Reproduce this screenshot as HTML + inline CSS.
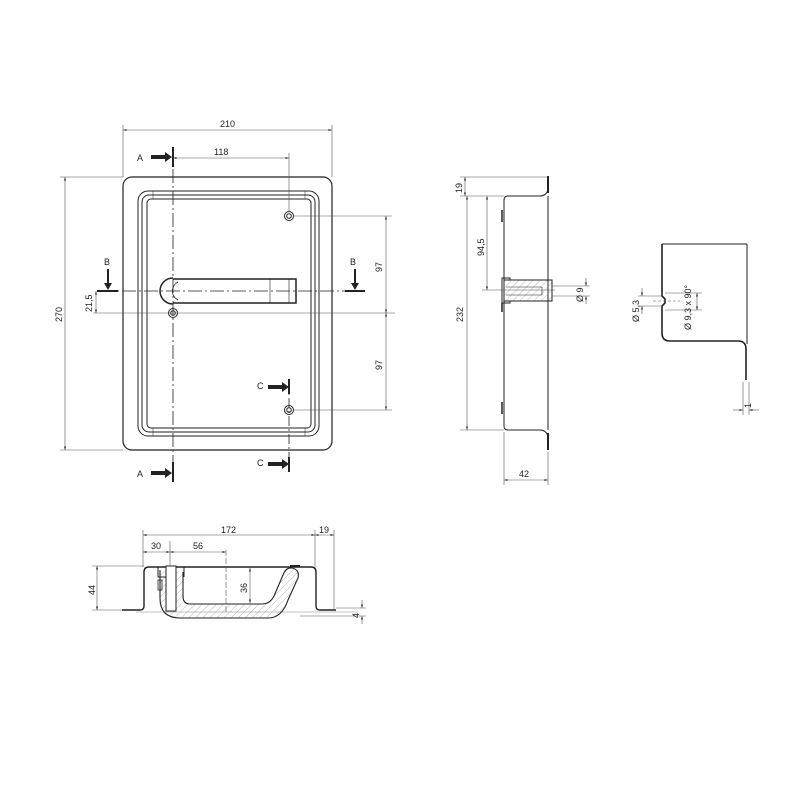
<!DOCTYPE html>
<html><head><meta charset="utf-8"><style>
html,body{margin:0;padding:0;background:#fff;}
svg{display:block;}
text{font-family:"Liberation Sans",sans-serif;font-size:9px;fill:#222;}
</style></head><body>
<svg width="801" height="801" viewBox="0 0 801 801" xmlns="http://www.w3.org/2000/svg">
<defs>
<marker id="ar" viewBox="0 0 10 10" refX="10" refY="5" markerWidth="6" markerHeight="6" orient="auto-start-reverse"><path d="M0,2 L10,5 L0,8z" fill="#333"/></marker>
<pattern id="h" width="5" height="5" patternUnits="userSpaceOnUse" patternTransform="rotate(45)"><line x1="0" y1="0" x2="0" y2="5" stroke="#999" stroke-width="0.7"/></pattern>
</defs>
<g fill="none" stroke="#222" stroke-width="1">
<!-- FRONT VIEW -->
<rect x="123" y="177" width="209" height="273" rx="9" stroke-width="1.2"/>
<rect x="138" y="191" width="181" height="245" rx="10"/>
<rect x="142" y="195" width="173" height="237" rx="7"/>
<rect x="147" y="199" width="164" height="229" rx="4"/>
<line x1="153" y1="191" x2="153" y2="199" stroke-width="0.5"/><line x1="305" y1="191" x2="305" y2="199" stroke-width="0.5"/>
<line x1="153" y1="428" x2="153" y2="436" stroke-width="0.5"/><line x1="305" y1="428" x2="305" y2="436" stroke-width="0.5"/>
<!-- handle -->
<path d="M173,279 L296,279 L296,303 L173,303" stroke-width="1.5"/>
<path d="M173,278 A13,13 0 0 0 173,304" stroke-width="1.5"/>
<path d="M178,282 A10,10 0 0 0 178,300" stroke-width="0.8"/>
<line x1="270" y1="279" x2="270" y2="303" stroke-width="0.6"/>
<line x1="289" y1="279" x2="289" y2="303" stroke-width="0.6"/>
<!-- holes -->
<circle cx="289" cy="216" r="4.5"/><circle cx="289" cy="216" r="2.3"/>
<circle cx="173" cy="313" r="4.5"/><circle cx="173" cy="313" r="2.3"/>
<circle cx="289" cy="410" r="4.5"/><circle cx="289" cy="410" r="2.3"/>
<!-- center lines -->
<line x1="173" y1="147" x2="173" y2="480" stroke-dasharray="14,3,2,3" stroke-width="0.8"/>
<line x1="100" y1="291" x2="365" y2="291" stroke-dasharray="14,3,2,3" stroke-width="0.8"/>
<line x1="289" y1="380" x2="289" y2="472" stroke-dasharray="10,3,2,3" stroke-width="0.8"/>
<!-- section marks -->
<line x1="173" y1="147" x2="173" y2="167" stroke-width="2"/><line x1="173" y1="462" x2="173" y2="482" stroke-width="2"/>
<line x1="97" y1="291" x2="118" y2="291" stroke-width="2"/><line x1="345" y1="291" x2="365" y2="291" stroke-width="2"/>
<line x1="289" y1="379" x2="289" y2="394" stroke-width="2"/><line x1="289" y1="457" x2="289" y2="472" stroke-width="2"/>
</g>
<g fill="#222">
<path d="M151,155 h14 v-3 l7,5 -7,5 v-3 h-14z"/>
<path d="M151,471 h14 v-3 l7,5 -7,5 v-3 h-14z"/>
<path d="M268,385 h14 v-3 l7,5 -7,5 v-3 h-14z"/>
<path d="M268,462 h14 v-3 l7,5 -7,5 v-3 h-14z"/>
<path d="M107,269 v14 h-3 l4,7 4,-7 h-3 v-14z"/>
<path d="M354,269 v14 h-3 l4,7 4,-7 h-3 v-14z"/>
</g>
<text x="137" y="161">A</text><text x="137" y="477">A</text>
<text x="257" y="389">C</text><text x="257" y="466">C</text>
<text x="104" y="265">B</text><text x="350" y="265">B</text>
<!-- dims front -->
<g stroke="#555" stroke-width="0.6" fill="none">
<line x1="123" y1="125" x2="123" y2="177"/><line x1="332" y1="125" x2="332" y2="177"/>
<line x1="123" y1="130" x2="332" y2="130" marker-start="url(#ar)" marker-end="url(#ar)"/>
<line x1="289" y1="153" x2="289" y2="212"/>
<line x1="173" y1="158" x2="289" y2="158" marker-start="url(#ar)" marker-end="url(#ar)"/>
<line x1="60" y1="177" x2="123" y2="177"/><line x1="60" y1="450" x2="123" y2="450"/>
<line x1="65" y1="177" x2="65" y2="450" marker-start="url(#ar)" marker-end="url(#ar)"/>
<line x1="93" y1="313" x2="395" y2="313"/>
<line x1="96" y1="291" x2="96" y2="313" marker-start="url(#ar)" marker-end="url(#ar)"/>
<line x1="293" y1="216" x2="392" y2="216"/><line x1="293" y1="410" x2="392" y2="410"/>
<line x1="386" y1="216" x2="386" y2="313" marker-start="url(#ar)" marker-end="url(#ar)"/>
<line x1="386" y1="313" x2="386" y2="410" marker-start="url(#ar)" marker-end="url(#ar)"/>
</g>
<text x="220" y="127">210</text><text x="214" y="155">118</text>
<text transform="translate(62,322) rotate(-90)">270</text>
<text transform="translate(92,312) rotate(-90)">21,5</text>
<text transform="translate(382,272) rotate(-90)">97</text>
<text transform="translate(382,370) rotate(-90)">97</text>

<!-- SIDE VIEW -->
<g fill="none" stroke="#222" stroke-width="1">
<line x1="548" y1="176" x2="548" y2="193" stroke-width="2"/>
<path d="M548,190 Q546,196 540,196 L508,196 Q504,196 504,200 L504,426 Q504,430 508,430 L540,430 Q546,430 548,436"/>
<line x1="548" y1="433" x2="548" y2="450" stroke-width="2"/>
<line x1="548" y1="196" x2="548" y2="430"/>
<line x1="502" y1="210" x2="502" y2="222" stroke-width="1.5"/>
<line x1="502" y1="402" x2="502" y2="414" stroke-width="1.5"/>
<rect x="504" y="280" width="48" height="21" fill="url(#h)"/>
<path d="M502,278 h8 v2 h42 v21 h-42 v2 h-8z"/>
<line x1="506" y1="287" x2="542" y2="287" stroke-width="0.6"/>
<line x1="506" y1="295" x2="542" y2="295" stroke-width="0.6"/>
<line x1="542" y1="287" x2="542" y2="295" stroke-width="0.6"/>
<line x1="502" y1="303" x2="502" y2="312" stroke-width="1.5"/>
</g>
<g stroke="#555" stroke-width="0.6" fill="none">
<line x1="460" y1="177" x2="548" y2="177"/><line x1="460" y1="196" x2="504" y2="196"/>
<line x1="465" y1="177" x2="465" y2="196" marker-start="url(#ar)" marker-end="url(#ar)"/>
<line x1="460" y1="430" x2="504" y2="430"/>
<line x1="467" y1="196" x2="467" y2="430" marker-start="url(#ar)" marker-end="url(#ar)"/>
<line x1="482" y1="290" x2="555" y2="290"/>
<line x1="487" y1="196" x2="487" y2="290" marker-start="url(#ar)" marker-end="url(#ar)"/>
<line x1="504" y1="432" x2="504" y2="485"/><line x1="548" y1="452" x2="548" y2="485"/>
<line x1="504" y1="480" x2="548" y2="480" marker-start="url(#ar)" marker-end="url(#ar)"/>
<line x1="552" y1="286" x2="590" y2="286"/><line x1="552" y1="296" x2="590" y2="296"/>
<line x1="586" y1="278" x2="586" y2="286" marker-end="url(#ar)"/>
<line x1="586" y1="304" x2="586" y2="296" marker-end="url(#ar)"/>
</g>
<text transform="translate(462,193) rotate(-90)">19</text>
<text transform="translate(463,322) rotate(-90)">232</text>
<text transform="translate(484,256) rotate(-90)">94,5</text>
<text x="519" y="477">42</text>
<text transform="translate(583,302) rotate(-90)">Ø 9</text>

<!-- DETAIL -->
<g fill="none" stroke="#222" stroke-width="1">
<path d="M662,244 L662,296 L665,299 L665,303 L662,306 L662,333 Q662,341 670,341 L738,341 Q746,341 746,349 L746,380" stroke-width="1.6"/>
<line x1="662" y1="244" x2="747" y2="244"/>
<line x1="747" y1="244" x2="747" y2="344"/>
</g>
<g stroke="#555" stroke-width="0.6" fill="none">
<line x1="638" y1="296" x2="662" y2="296"/><line x1="638" y1="306" x2="662" y2="306"/>
<line x1="642" y1="288" x2="642" y2="296" marker-end="url(#ar)"/>
<line x1="642" y1="314" x2="642" y2="306" marker-end="url(#ar)"/>
<line x1="665" y1="293" x2="702" y2="293"/><line x1="665" y1="310" x2="702" y2="310"/>
<line x1="697" y1="293" x2="697" y2="310" marker-start="url(#ar)" marker-end="url(#ar)"/>
<line x1="653" y1="301" x2="680" y2="301" stroke-dasharray="3,2"/>
<line x1="743" y1="382" x2="743" y2="415"/><line x1="749" y1="382" x2="749" y2="415"/>
<line x1="733" y1="410" x2="743" y2="410" marker-end="url(#ar)"/>
<line x1="759" y1="410" x2="749" y2="410" marker-end="url(#ar)"/>
</g>
<text transform="translate(639,322) rotate(-90)">Ø 5,3</text>
<text transform="translate(691,330) rotate(-90)">Ø 9,3 x 90°</text>
<text transform="translate(751,408) rotate(-90)">1</text>

<!-- BOTTOM VIEW -->
<g fill="none" stroke="#222" stroke-width="1.4">
<path d="M122,610 L140,610 Q144,610 144,606 L144,572 Q144,567 149,567 L311,567 Q316,567 316,572 L316,606 Q316,610 320,610 L336,610"/>
<line x1="136" y1="612" x2="358" y2="612" stroke="#888" stroke-width="0.6"/>
<path d="M160,570 L160,598 Q160,618 180,618 L268,618 Q282,618 288,600 L298,578 Q300,570 292,568 Q286,567 283,575 L274,596 Q270,604 262,604 L190,604 Q183,604 183,596 L183,572" fill="url(#h)" stroke-width="1.1"/>
<rect x="166" y="566" width="10" height="45" fill="#fff" stroke-width="1"/>
<path d="M158,567 v10 h8 M176,567 h8 v10" stroke-width="1"/>
<rect x="158" y="580" width="4" height="10" stroke-width="0.8"/>
<line x1="290" y1="566" x2="300" y2="566" stroke-width="2"/>
</g>
<g stroke="#555" stroke-width="0.6" fill="none">
<line x1="143" y1="530" x2="143" y2="567"/><line x1="315" y1="530" x2="315" y2="567"/><line x1="334" y1="530" x2="334" y2="610"/>
<line x1="143" y1="535" x2="315" y2="535" marker-start="url(#ar)" marker-end="url(#ar)"/>
<line x1="315" y1="535" x2="334" y2="535" marker-start="url(#ar)" marker-end="url(#ar)"/>
<line x1="170" y1="541" x2="170" y2="566"/>
<line x1="143" y1="552" x2="170" y2="552" marker-start="url(#ar)" marker-end="url(#ar)"/>
<line x1="170" y1="552" x2="226" y2="552" marker-start="url(#ar)" marker-end="url(#ar)"/>
<line x1="226" y1="550" x2="226" y2="612" stroke-dasharray="6,2"/>
<line x1="92" y1="566" x2="144" y2="566"/><line x1="92" y1="610" x2="122" y2="610"/>
<line x1="97" y1="566" x2="97" y2="610" marker-start="url(#ar)" marker-end="url(#ar)"/>
<line x1="250" y1="568" x2="250" y2="603" marker-start="url(#ar)" marker-end="url(#ar)"/>
<line x1="336" y1="608" x2="366" y2="608"/><line x1="300" y1="616" x2="366" y2="616"/>
<line x1="362" y1="600" x2="362" y2="608" marker-end="url(#ar)"/>
<line x1="362" y1="624" x2="362" y2="616" marker-end="url(#ar)"/>
</g>
<text x="221" y="533">172</text><text x="319" y="533">19</text>
<text x="151" y="549">30</text><text x="193" y="549">56</text>
<text transform="translate(95,595) rotate(-90)">44</text>
<text transform="translate(247,593) rotate(-90)">36</text>
<text transform="translate(359,618) rotate(-90)">4</text>
</svg>
</body></html>
